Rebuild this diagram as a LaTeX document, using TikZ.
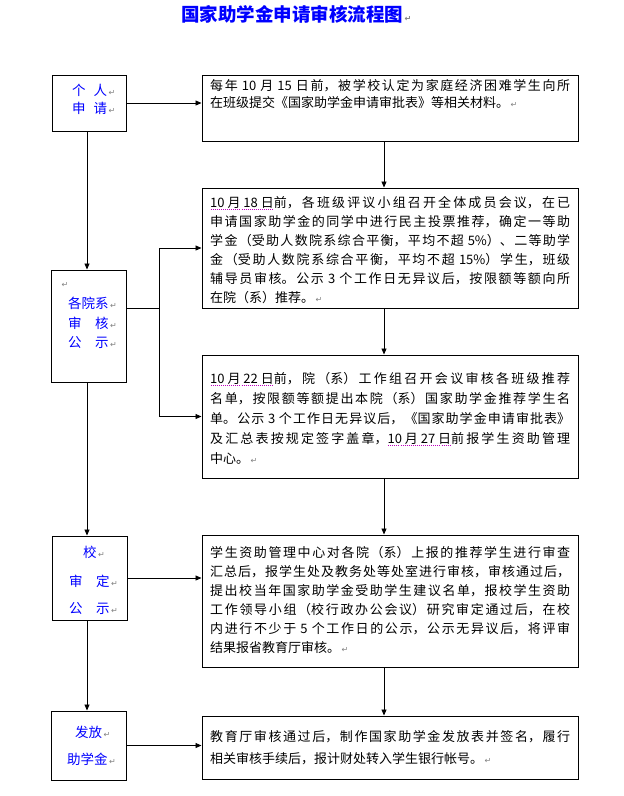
\documentclass[tikz,border=0pt]{standalone}
\usepackage{fontspec}
\setmainfont{Noto Sans CJK SC}
\newfontfamily\dejavu{DejaVu Sans}
\usetikzlibrary{arrows.meta,calc}
\XeTeXlinebreaklocale "zh"
\XeTeXlinebreakskip=0pt plus 2pt
\definecolor{lblue}{RGB}{0,0,255}
\definecolor{dotc}{RGB}{190,0,190}
\newcommand\pmk{{\dejavu\fontsize{8}{8}\selectfont\textcolor{gray}{\,↵}}}
\newcommand\dul[1]{\setbox0\hbox{#1}\leavevmode\rlap{\raisebox{-2.8pt}{\textcolor{dotc}{\hbox to \wd0{\xleaders\hbox to 2pt{\hss\rule{0.9pt}{0.7pt}\hss}\hfill}}}}\box0}
\begin{document}
\begin{tikzpicture}[x=1pt,y=-1pt,
  box/.style={draw=black, line width=1pt, inner sep=0pt},
  lbl/.style={anchor=west, inner sep=0pt, text=lblue, font=\fontsize{13.5}{15}\selectfont},
  body/.style={anchor=north west, inner sep=0pt, text width=360pt, align=justify},
  conn/.style={draw=black, line width=0.9pt},
  arr/.style={conn, -{Triangle[length=6pt,width=5pt]}}
]
\useasboundingbox (0,0) rectangle (624,796);

% title
\node[anchor=west, inner sep=0pt, text=lblue, font=\fontsize{18.5}{20}\selectfont\bfseries] (title) at (181,14) {国家助学金申请审核流程图\pmk};

% left boxes
\node[box, minimum width=74pt, minimum height=56pt] (L1) at (89,103) {};
\node[box, minimum width=75pt, minimum height=112pt] (L2) at (88.5,326) {};
\node[box, minimum width=75pt, minimum height=84pt] (L3) at (89.5,578) {};
\node[box, minimum width=75pt, minimum height=69pt] (L4) at (88.5,745.5) {};

% right boxes
\node[box, minimum width=376pt, minimum height=66pt] (R1) at (390,108) {};
\node[box, minimum width=376pt, minimum height=120pt] (R2) at (390,248) {};
\node[box, minimum width=376pt, minimum height=123pt] (R3) at (390,416.5) {};
\node[box, minimum width=376pt, minimum height=132pt] (R4) at (390,601) {};
\node[box, minimum width=376pt, minimum height=63pt] (R5) at (390,747.5) {};

% left labels
\node[lbl] (l1a) at (72,90) {个\hspace{8pt}人\pmk};
\node[lbl] (l1b) at (72,108) {申\hspace{8pt}请\pmk};
\node[lbl] (l2o) at (60,285) {\pmk};
\node[lbl] (l2a) at (68,303) {各院系\pmk};
\node[lbl] (l2b) at (68,323) {审　核\pmk};
\node[lbl] (l2c) at (68,342) {公　示\pmk};
\node[lbl] (l3a) at (83,552) {校\pmk};
\node[lbl] (l3b) at (69,581) {审　定\pmk};
\node[lbl] (l3c) at (69,608) {公　示\pmk};
\node[lbl] (l4a) at (75,732) {发放\pmk};
\node[lbl] (l4b) at (67,759) {助学金\pmk};

% body texts
\node[body, font=\fontsize{13}{17}\selectfont] (t1) at (210,79) {每年 10 月 15 日前，被学校认定为家庭经济困难学生向所\linebreak 在班级提交《国家助学金申请审批表》等相关材料。\pmk};
\node[body, font=\fontsize{13}{19}\selectfont] (t2) at (210,196) {\dul{10 月 18 日}前，各班级评议小组召开全体成员会议，在已\linebreak 申请国家助学金的同学中进行民主投票推荐，确定一等助\linebreak 学金（受助人数院系综合平衡，平均不超 5\%）、二等助学\linebreak 金（受助人数院系综合平衡，平均不超 15\%）学生，班级\linebreak 辅导员审核。公示 3 个工作日无异议后，按限额等额向所\linebreak 在院（系）推荐。\pmk};
\node[body, font=\fontsize{13}{20}\selectfont] (t3) at (210,372) {\dul{10 月 22 日}前，院（系）工作组召开会议审核各班级推荐\linebreak 名单，按限额等额提出本院（系）国家助学金推荐学生名\linebreak 单。公示 3 个工作日无异议后，《国家助学金申请审批表》\linebreak 及汇总表按规定签字盖章，\dul{10 月 27 日}前报学生资助管理\linebreak 中心。\pmk};
\node[body, font=\fontsize{13}{19}\selectfont] (t4) at (210,546) {学生资助管理中心对各院（系）上报的推荐学生进行审查\linebreak 汇总后，报学生处及教务处等处室进行审核，审核通过后，\linebreak 提出校当年国家助学金受助学生建议名单，报校学生资助\linebreak 工作领导小组（校行政办公会议）研究审定通过后，在校\linebreak 内进行不少于 5 个工作日的公示，公示无异议后，将评审\linebreak 结果报省教育厅审核。\pmk};
\node[body, font=\fontsize{13}{22}\selectfont] (t5) at (210,730) {教育厅审核通过后，制作国家助学金发放表并签名，履行\linebreak 相关审核手续后，报计财处转入学生银行帐号。\pmk};

% helper coordinates
\coordinate (lx) at (87,0);
\coordinate (cx) at (384,0);
\coordinate (bus) at (159,308);

% left vertical flow
\draw[arr] (L1.south -| lx) -- (L2.north -| lx);
\draw[arr] (L2.south -| lx) -- (L3.north -| lx);
\draw[arr] (L3.south -| lx) -- (L4.north -| lx);

% right vertical flow
\draw[arr] (R1.south -| cx) -- (R2.north -| cx);
\draw[arr] (R2.south -| cx) -- (R3.north -| cx);
\draw[arr] (R3.south -| cx) -- (R4.north -| cx);
\draw[arr] (R4.south -| cx) -- (R5.north -| cx);

% horizontal links
\draw[arr] (L1.east) -- (L1.east -| R1.west);
\draw[conn] (L2.east |- bus) -- (bus);
\draw[conn] (bus |- R2.west) -- (bus |- R3.west);
\draw[arr] (bus |- R2.west) -- (R2.west);
\draw[arr] (bus |- R3.west) -- (R3.west);
\draw[arr] (L3.east) -- (L3.east -| R4.west);
\draw[arr] (L4.east) -- (L4.east -| R5.west);
\end{tikzpicture}
\end{document}
